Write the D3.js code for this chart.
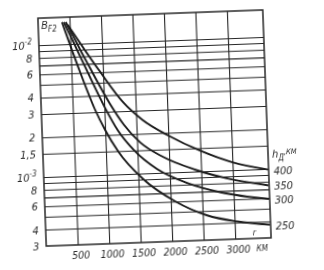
<!DOCTYPE html>
<html>
<head>
<meta charset="utf-8">
<script src="https://cdn.jsdelivr.net/npm/d3@7"></script>
<style>
  body { margin: 0; background: #fff; }
  svg { display: block; }
  text {
    font-family: "DejaVu Sans Condensed", "DejaVu Sans", sans-serif;
    font-style: italic;
    fill: #2b2b2b;
  }
</style>
</head>
<body>
<svg id="chart" width="324" height="270"></svg>
<script>
// curves B_F2(r) for four heights h_Д (km)
let heights = ['250', '300', '350', '400'];

let dist250 = [380, 630, 850, 1000, 1200, 1570, 2070, 2570, 3050, 3560];
let val250 = [1.47e-2, 6.24e-3, 3.16e-3, 2.19e-3, 1.48e-3, 9.12e-4, 6.03e-4, 4.62e-4, 4.07e-4, 3.78e-4];

let dist300 = [410, 750, 1000, 1200, 1450, 1800, 2300, 2800, 3560];
let val300 = [1.47e-2, 6.17e-3, 3.31e-3, 2.16e-3, 1.5e-3, 1.07e-3, 8.13e-4, 6.84e-4, 5.92e-4];

let dist350 = [440, 800, 1100, 1300, 1550, 1900, 2400, 2900, 3560];
let val350 = [1.47e-2, 6.46e-3, 3.39e-3, 2.37e-3, 1.72e-3, 1.32e-3, 1.035e-3, 8.71e-4, 7.5e-4];

let dist400 = [470, 950, 1300, 1600, 2000, 2500, 3000, 3560];
let val400 = [1.4e-2, 6.1e-3, 3.51e-3, 2.54e-3, 1.905e-3, 1.43e-3, 1.148e-3, 9.89e-4];

let xTicks = [500, 1000, 1500, 2000, 2500, 3000];
let yGrid = [1e-2, 9e-3, 8e-3, 7e-3, 6e-3, 5e-3, 4e-3, 3e-3, 2e-3, 1.5e-3,
  1e-3, 9e-4, 8e-4, 7e-4, 6e-4, 5e-4, 4e-4];
let yTickVals = [1e-2, 8e-3, 6e-3, 4e-3, 3e-3, 2e-3, 1.5e-3, 1e-3, 8e-4, 6e-4, 4e-4, 3e-4];
let yTickText = ['10|-2', '8', '6', '4', '3', '2', '1,5', '10|-3', '8', '6', '4', '3'];

let series = [
  { h: heights[0], dist: dist250, val: val250 },
  { h: heights[1], dist: dist300, val: val300 },
  { h: heights[2], dist: dist350, val: val350 },
  { h: heights[3], dist: dist400, val: val400 }
];

let frameLeft = 42, frameRight = 267, frameTop = 14, frameBottom = 242;
let ink = '#262626';

let svg = d3.select('#chart');

// soft scan look
svg.append('defs').append('filter')
  .attr('id', 'soft')
  .append('feGaussianBlur')
  .attr('stdDeviation', 0.35);

// the scan is slightly turned
let g = svg.append('g')
  .attr('transform', 'rotate(-2.1, 155, 128)')
  .attr('filter', 'url(#soft)');

let x = d3.scaleLinear().domain([0, 3570]).range([frameLeft, frameRight]);
let y = d3.scaleLog().domain([3e-4, 1.6e-2]).range([frameBottom, frameTop]);

// horizontal grid
g.append('g')
  .attr('transform', `translate(${frameLeft},0)`)
  .call(d3.axisLeft(y).tickValues(yGrid).tickSize(-(frameRight - frameLeft)).tickFormat(''))
  .call((a) => a.select('.domain').remove())
  .selectAll('line')
  .attr('stroke', ink)
  .attr('stroke-width', 1.1);

// vertical grid
g.append('g')
  .attr('transform', `translate(0,${frameBottom})`)
  .call(d3.axisBottom(x).tickValues(xTicks).tickSize(-(frameBottom - frameTop)).tickFormat(''))
  .call((a) => a.select('.domain').remove())
  .selectAll('line')
  .attr('stroke', ink)
  .attr('stroke-width', 1.1);

// frame
g.append('rect')
  .attr('x', frameLeft)
  .attr('y', frameTop)
  .attr('width', frameRight - frameLeft)
  .attr('height', frameBottom - frameTop)
  .attr('fill', 'none')
  .attr('stroke', ink)
  .attr('stroke-width', 1.5);

// curves
let line = d3.line()
  .x((d) => x(d[0]))
  .y((d) => y(d[1]))
  .curve(d3.curveMonotoneX);

for (let s of series) {
  let pts = s.dist.map((d, i) => [d, s.val[i]]);

  g.append('path')
    .datum(pts)
    .attr('d', line)
    .attr('fill', 'none')
    .attr('stroke', '#1c1c1c')
    .attr('stroke-width', 1.9);

  // height label at the right end
  g.append('text')
    .attr('x', frameRight + 5)
    .attr('y', y(pts[pts.length - 1][1]) + 5)
    .style('font-size', '11px')
    .text(s.h);
}

// y tick labels
yTickVals.forEach((v, i) => {
  let parts = yTickText[i].split('|');
  let t = g.append('text')
    .attr('x', frameLeft - 7)
    .attr('y', y(v) + 4)
    .attr('text-anchor', 'end')
    .style('font-size', '11px')
    .text(parts[0]);

  if (parts[1]) {
    t.append('tspan')
      .attr('dy', -5)
      .style('font-size', '8px')
      .text(parts[1]);
  }
});

// x tick labels
xTicks.forEach((v) => {
  g.append('text')
    .attr('x', x(v) + 3)
    .attr('y', frameBottom + 14)
    .attr('text-anchor', 'middle')
    .style('font-size', '10.5px')
    .text(v);
});

g.append('text')
  .attr('x', x(3000) + 21)
  .attr('y', frameBottom + 13)
  .style('font-size', '8px')
  .text('КМ');

// axis titles
let bt = g.append('text')
  .attr('x', frameLeft + 3)
  .attr('y', frameTop + 11)
  .style('font-size', '11px')
  .text('B');

bt.append('tspan')
  .attr('dy', 3)
  .style('font-size', '8px')
  .text('F2');

let ht = g.append('text')
  .attr('x', frameRight + 4)
  .attr('y', y(val400[val400.length - 1]) - 12)
  .style('font-size', '11px')
  .text('h');

ht.append('tspan')
  .attr('dy', 3)
  .style('font-size', '8px')
  .text('Д');

ht.append('tspan')
  .attr('dy', -6)
  .style('font-size', '7.5px')
  .text(',КМ');

g.append('text')
  .attr('x', x(3280))
  .attr('y', frameBottom - 3)
  .style('font-size', '9px')
  .text('r');
</script>
</body>
</html>
